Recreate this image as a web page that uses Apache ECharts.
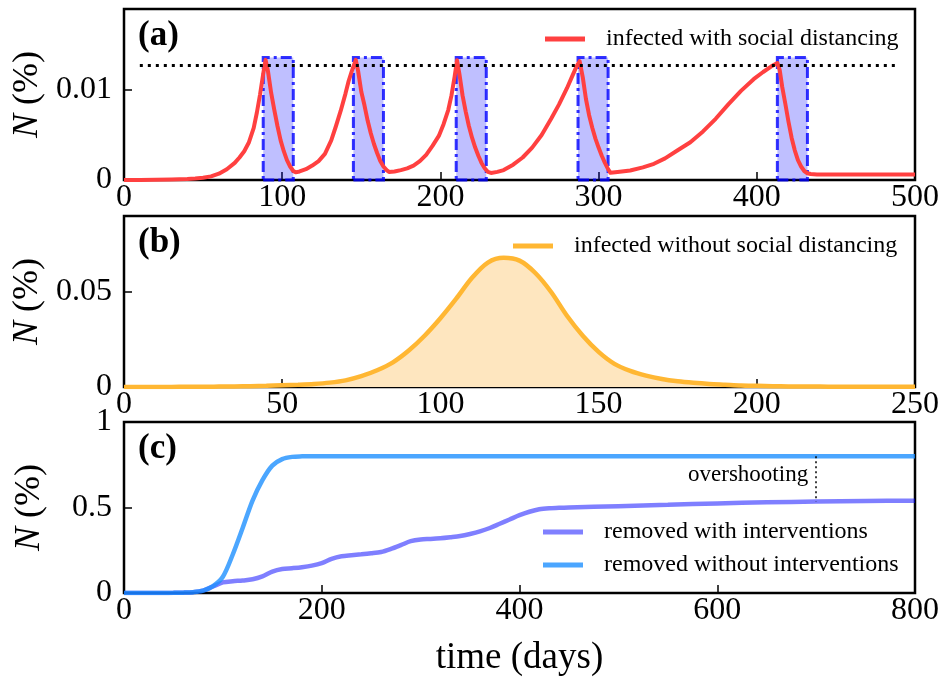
<!DOCTYPE html>
<html>
<head>
<meta charset="utf-8">
<script src="https://cdn.jsdelivr.net/npm/echarts@6/dist/echarts.min.js"></script>
<style>html,body{margin:0;padding:0;background:#fff;}#c{width:942px;height:677px;}</style>
</head>
<body>
<div id="c"></div>
<script>
// ---------- Panel (a): infected with social distancing ----------
const daysA = [0,10,20,30,40,45,50,55,60,65,70,73,76,79,82,84,86,88,89.5,
  91,93,95,97,99,101,103,105,107,108.5,
  111,115,119,123,127,131,134,137,140,142,144,146.5,
  148,150,152,154,156,158,160,162,164,166,167.5,
  171,175,179,183,187,191,195,199,202,205,207,209,210.5,
  212,214,216,218,220,222,224,226,228,230,232,
  236,240,246,252,258,264,270,275,280,283,286,288,
  290,292,294,296,298,300,302,304,306,307.5,
  312,320,328,335,342,350,358,366,374,382,390,398,404,409,413,
  414.5,416,418,420,422,424,426,428,430,432,434,438,445,460,480,500];
const infectedWith = [0,0.00001,0.00003,0.00006,0.00012,0.00017,0.00024,0.0004,0.0007,0.0012,0.0019,0.0025,0.0032,0.0042,0.0058,0.0075,0.0095,0.0118,0.01335,
  0.0121,0.0097,0.0078,0.0060,0.0044,0.0032,0.0022,0.0015,0.0010,0.00085,
  0.00095,0.0012,0.0016,0.0021,0.0029,0.0044,0.0060,0.0077,0.0096,0.0110,0.0121,0.01335,
  0.0121,0.0098,0.0083,0.0066,0.0052,0.0040,0.0030,0.0021,0.0015,0.0011,0.0009,
  0.00095,0.0011,0.0013,0.0016,0.0021,0.0028,0.0038,0.0049,0.0062,0.0078,0.0094,0.0115,0.0133,
  0.0118,0.0094,0.0076,0.0060,0.0047,0.0036,0.0027,0.0019,0.0013,0.0009,0.00078,
  0.0009,0.0011,0.0017,0.0025,0.0036,0.0050,0.0068,0.0084,0.0102,0.0114,0.0126,0.0132,
  0.0114,0.0090,0.0072,0.0058,0.0046,0.0036,0.0027,0.0019,0.0012,0.0008,
  0.0009,0.00105,0.0014,0.0018,0.0024,0.0033,0.0042,0.0054,0.0068,0.0084,0.0099,0.0112,0.0120,0.0126,0.0130,
  0.0122,0.0104,0.0085,0.0065,0.0047,0.0033,0.0022,0.0015,0.0010,0.00075,0.00066,0.00062,0.0006,0.0006,0.0006,0.0006];
const interventionStart = [88,145,210,287,413];
const interventionEnd = [107,164,229,306,432];
const interventionTop = 0.0136;
const thresholdLevel = 0.0128;
const thresholdFrom = 10, thresholdTo = 490;

// ---------- Panel (b): infected without social distancing ----------
const daysB = [0,5,10,15,20,25,30,35,40,45,50,55,60,65,70,75,80,85,90,95,100,105,110,115,120,125,130,135,140,145,150,155,160,165,170,175,180,185,190,195,200,205,210,215,220,225,230,235,240,245,250];
const infectedWithout = [0,0,0,0.00005,0.0001,0.0001,0.0002,0.0003,0.0004,0.0006,0.0009,0.0012,0.0016,0.0023,0.0035,0.0057,0.0088,0.0130,0.0192,0.0270,0.0362,0.0465,0.0575,0.0655,0.0680,0.0665,0.0600,0.0500,0.0375,0.0270,0.0185,0.0122,0.0085,0.0060,0.0042,0.0030,0.0022,0.0016,0.0012,0.0008,0.0006,0.0004,0.0003,0.0002,0.0002,0.0001,0.0001,0.0001,0.0001,0.0001,0.0001];

// ---------- Panel (c): removed ----------
const daysC = [0,10,20,30,40,50,60,70,80,90,100,110,120,130,140,150,160,170,180,190,200,210,220,230,240,250,260,270,280,290,300,310,320,330,340,350,360,370,380,390,400,410,420,430,440,450,500,550,600,650,700,750,800];
const removedWith = [0,0,0,0,0.0005,0.001,0.002,0.005,0.014,0.038,0.062,0.069,0.073,0.08,0.097,0.125,0.14,0.145,0.151,0.16,0.175,0.2,0.215,0.221,0.226,0.232,0.24,0.258,0.28,0.303,0.313,0.316,0.32,0.326,0.333,0.345,0.36,0.38,0.405,0.43,0.455,0.475,0.49,0.496,0.498,0.5,0.508,0.516,0.524,0.53,0.535,0.538,0.54];
const removedWithout = [0,0,0,0,0.0005,0.001,0.002,0.005,0.014,0.04,0.095,0.225,0.38,0.54,0.66,0.745,0.783,0.796,0.799,0.8,0.8,0.8,0.8,0.8,0.8,0.8,0.8,0.8,0.8,0.8,0.8,0.8,0.8,0.8,0.8,0.8,0.8,0.8,0.8,0.8,0.8,0.8,0.8,0.8,0.8,0.8,0.8,0.8,0.8,0.8,0.8,0.8,0.8];
const overshootDay = 700, overshootTop = 0.8, overshootBottom = 0.535, overshootLabelY = 0.69;

const zip = (xs, ys) => xs.map((x, i) => [x, ys[i]]);
const FONT = '"Liberation Serif", "DejaVu Serif", serif';
const fmt = v => (v === 0 ? '0' : String(v));

const gridBase = {left: 124, right: 27, height: 171, show: true, borderColor: '#000', borderWidth: 2.5, backgroundColor: 'transparent', outerBoundsMode: 'none', containLabel: false};

function xAx(gi, max, interval) {
  return {type: 'value', gridIndex: gi, min: 0, max: max, interval: interval,
    axisLine: {show: false}, splitLine: {show: false},
    axisTick: {show: true, inside: true, length: 8, lineStyle: {color: '#000', width: 1.5}},
    axisLabel: {color: '#000', fontFamily: FONT, fontSize: 32, margin: 2, formatter: fmt, showMinLabel: true, showMaxLabel: true}};
}
function yAx(gi, max, interval, showMax) {
  return {type: 'value', gridIndex: gi, min: 0, max: max, interval: interval,
    axisLine: {show: false}, splitLine: {show: false},
    axisTick: {show: true, inside: true, length: 8, lineStyle: {color: '#000', width: 1.5}},
    axisLabel: {color: '#000', fontFamily: FONT, fontSize: 32, margin: 12, formatter: fmt, showMinLabel: true, showMaxLabel: showMax},
    name: '{n|N} (%)', nameLocation: 'middle', nameGap: 76, nameRotate: 90,
    nameTextStyle: {color: '#000', fontFamily: FONT, fontSize: 36, rich: {n: {fontStyle: 'italic', fontFamily: FONT, fontSize: 36, color: '#000'}}}};
}

const rectAreas = interventionStart.map((s, i) => [{xAxis: s, yAxis: 0}, {xAxis: interventionEnd[i], yAxis: interventionTop}]);

const legendText = {color: '#000', fontFamily: FONT, fontSize: 24, padding: [0, 0, 0, 16]};
const titleStyle = {fontFamily: FONT, fontWeight: 'bold', fontSize: 35, color: '#000'};

const option = {
  animation: false,
  backgroundColor: '#fff',
  grid: [
    Object.assign({top: 9}, gridBase),
    Object.assign({top: 216}, gridBase),
    Object.assign({top: 422}, gridBase)
  ],
  xAxis: [
    xAx(0, 500, 100),
    xAx(1, 250, 50),
    Object.assign(xAx(2, 800, 200), {name: 'time (days)', nameLocation: 'middle', nameGap: 47, nameTextStyle: {color: '#000', fontFamily: FONT, fontSize: 37}})
  ],
  yAxis: [
    yAx(0, 0.019, 0.01, false),
    yAx(1, 0.09, 0.05, false),
    yAx(2, 1, 0.5, true)
  ],
  title: [
    {text: '(a)', left: 133, top: 13, textStyle: titleStyle},
    {text: '(b)', left: 133, top: 220, textStyle: titleStyle},
    {text: '(c)', left: 133, top: 426, textStyle: titleStyle}
  ],
  legend: [
    {left: 540, top: 22, icon: 'rect', itemWidth: 40, itemHeight: 5, data: ['infected with social distancing'], textStyle: legendText},
    {left: 508, top: 229, icon: 'rect', itemWidth: 40, itemHeight: 5, data: ['infected without social distancing'], textStyle: legendText},
    {left: 538, top: 515, orient: 'vertical', itemGap: 9, icon: 'rect', itemWidth: 40, itemHeight: 5, data: ['removed with interventions', 'removed without interventions'], textStyle: legendText}
  ],
  series: [
    {name: 'infected with social distancing', type: 'line', xAxisIndex: 0, yAxisIndex: 0,
      data: zip(daysA, infectedWith), showSymbol: false, symbol: 'none', smooth: false, z: 3,
      lineStyle: {color: 'rgb(255,64,64)', width: 4, join: 'round'}, itemStyle: {color: 'rgb(255,64,64)'},
      markArea: {silent: true, itemStyle: {color: 'rgba(0,0,255,0.25)', borderColor: 'rgba(0,0,255,0.8)', borderWidth: 3, borderType: [11, 4, 3, 4]}, data: rectAreas},
      markLine: {silent: true, symbol: 'none', label: {show: false},
        lineStyle: {color: '#000', type: [3, 5], width: 3, cap: 'butt'},
        data: [[{coord: [thresholdFrom, thresholdLevel]}, {coord: [thresholdTo, thresholdLevel]}]]}},
    {name: 'infected without social distancing', type: 'line', xAxisIndex: 1, yAxisIndex: 1,
      data: zip(daysB, infectedWithout), showSymbol: false, symbol: 'none', smooth: 0.3,
      lineStyle: {color: 'rgb(255,183,51)', width: 4.5}, itemStyle: {color: 'rgb(255,183,51)'},
      areaStyle: {color: 'rgb(254,230,191)', opacity: 1}},
    {name: 'removed with interventions', type: 'line', xAxisIndex: 2, yAxisIndex: 2,
      data: zip(daysC, removedWith), showSymbol: false, symbol: 'none', smooth: 0.3,
      lineStyle: {color: 'rgba(0,0,255,0.5)', width: 4.5}, itemStyle: {color: 'rgb(128,128,255)'},
      markPoint: {silent: true, symbol: 'circle', symbolSize: 0,
        label: {show: true, position: 'left', distance: 8, formatter: 'overshooting', color: '#000', fontFamily: FONT, fontSize: 23},
        data: [{coord: [overshootDay, overshootLabelY]}]}},
    {name: 'removed without interventions', type: 'line', xAxisIndex: 2, yAxisIndex: 2,
      data: zip(daysC, removedWithout), showSymbol: false, symbol: 'none', smooth: 0.3,
      lineStyle: {color: 'rgba(30,144,255,0.8)', width: 4.5}, itemStyle: {color: 'rgb(75,166,255)'},
      markLine: {silent: true, symbol: 'none', label: {show: false},
        lineStyle: {color: '#000', type: [2, 3], width: 1.5, cap: 'butt'},
        data: [[{coord: [overshootDay, overshootTop]}, {coord: [overshootDay, overshootBottom]}]]}}
  ]
};
const chart = echarts.init(document.getElementById('c'), null, {renderer: 'canvas'});
chart.setOption(option);
</script>
</body>
</html>
